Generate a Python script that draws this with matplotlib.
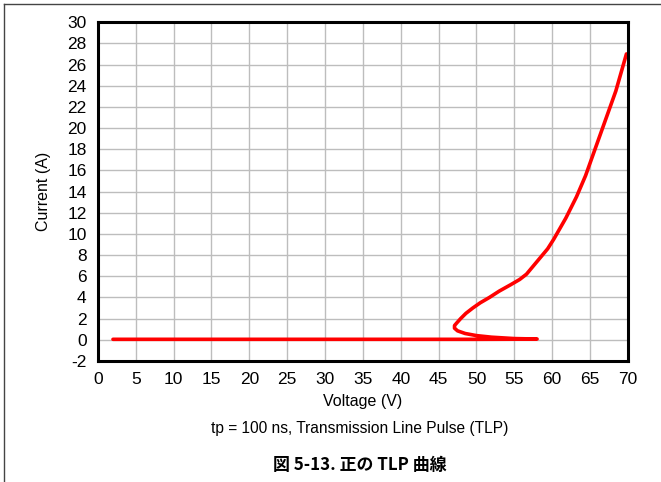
import matplotlib.pyplot as plt
from matplotlib.lines import Line2D

plt.rcParams['font.family'] = ['Liberation Sans', 'Noto Sans CJK JP', 'DejaVu Sans']
plt.rcParams['axes.unicode_minus'] = False

# TLP curve
voltage = [2, 10, 20, 30, 40, 50, 55, 58,
           57, 55, 52, 50, 48.5, 47.5, 47.1, 47.1, 47.4, 47.9, 48.6, 49.5,
           50.5, 51.7, 53.0, 54.5, 55.7, 56.6, 57.3, 58.0, 58.7, 59.4,
           60.2, 61.0, 61.8, 62.5, 63.2, 63.8, 64.4, 64.9, 65.4, 65.9,
           66.4, 66.9, 67.4, 67.9, 68.4, 68.8, 69.2, 69.6, 69.8]
current = [0.05, 0.05, 0.05, 0.05, 0.05, 0.05, 0.06, 0.08,
           0.09, 0.12, 0.25, 0.4, 0.6, 0.85, 1.1, 1.35, 1.6, 2.0, 2.5, 3.0,
           3.5, 4.0, 4.6, 5.2, 5.7, 6.2, 6.8, 7.4, 8.0, 8.6,
           9.5, 10.5, 11.5, 12.5, 13.5, 14.5, 15.5, 16.5, 17.5, 18.5,
           19.5, 20.5, 21.5, 22.5, 23.5, 24.5, 25.5, 26.5, 27.0]

x_ticks = list(range(0, 71, 5))
y_ticks = list(range(-2, 31, 2))

fig = plt.figure(figsize=(6.61, 4.82), dpi=100)
ax = fig.add_axes([0.148, 0.251, 0.802, 0.703])

ax.plot(voltage, current, color='#ff0000', linewidth=2.6, solid_capstyle='round')

ax.set_xlim(0, 70)
ax.set_ylim(-2, 30)
ax.set_xticks(x_ticks)
ax.set_yticks(y_ticks)
ax.grid(True, color='#bdbdbd', linewidth=1.0)
ax.set_axisbelow(True)
ax.tick_params(length=0, labelsize=12.5, pad=8)
for s in ax.spines.values():
    s.set_linewidth(2.2)
    s.set_color('black')

ax.set_xlabel('Voltage (V)', fontsize=11.5, labelpad=5)
ax.set_ylabel('Current (A)', fontsize=11.5, labelpad=12)

fig.text(0.544, 0.112, 'tp = 100 ns, Transmission Line Pulse (TLP)',
         ha='center', va='center', fontsize=11.2)
fig.text(0.544, 0.035, '図 5-13. 正の TLP 曲線', ha='center', va='center',
         fontsize=12.2, fontweight='bold',
         family=['Noto Sans CJK JP', 'DejaVu Sans'])

# outer frame (top and left edges)
fig.add_artist(Line2D([0.006, 1.0], [0.991, 0.991], color='#444444', linewidth=1.0))
fig.add_artist(Line2D([0.006, 0.006], [0.0, 0.991], color='#444444', linewidth=1.0))

plt.savefig('out.png', dpi=100)
